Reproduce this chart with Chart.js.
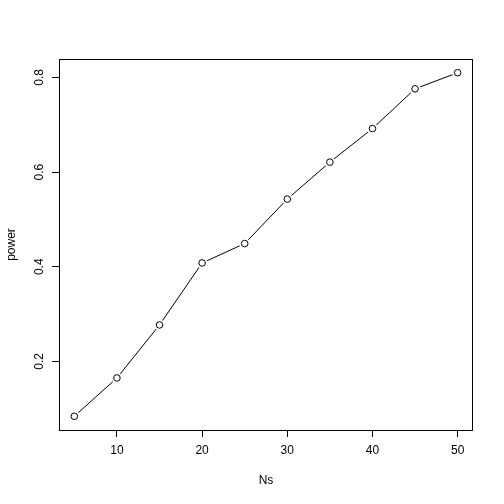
<!DOCTYPE html>
<html>
<head>
<meta charset="utf-8">
<script src="https://cdn.jsdelivr.net/npm/chart.js@4"></script>
<style>
  html, body { margin: 0; padding: 0; background: #fff; }
  #wrap { width: 504px; height: 504px; }
</style>
</head>
<body>
<div id="wrap"><canvas id="powerChart" width="504" height="504"></canvas></div>
<script>
// values
const Ns = [5, 10, 15, 20, 25, 30, 35, 40, 45, 50];
const power = [0.084, 0.165, 0.277, 0.408, 0.449, 0.543, 0.621, 0.692, 0.776, 0.810];
const xTicks = [10, 20, 30, 40, 50];
const yTicks = [0.2, 0.4, 0.6, 0.8];
const xTitle = 'Ns';
const yTitle = 'power';

const FONT = '"Liberation Sans", Arial, sans-serif';
const points = Ns.map((n, i) => ({ x: n, y: power[i] }));

// box around plot area + rotated y labels + axis titles (R base style)
const rStyle = {
  id: 'rStyle',
  afterDraw(chart) {
    const ctx = chart.ctx;
    const a = chart.chartArea;
    const ys = chart.scales.y;
    ctx.save();
    ctx.strokeStyle = '#000';
    ctx.lineWidth = 1;
    ctx.strokeRect(Math.round(a.left) + 0.5, Math.round(a.top) + 0.5,
      Math.round(a.right - a.left) - 1, Math.round(a.bottom - a.top));
    ctx.fillStyle = '#000';
    ctx.font = '12px ' + FONT;
    ctx.textAlign = 'center';
    ctx.textBaseline = 'middle';
    yTicks.forEach(v => {
      ctx.save();
      ctx.translate(40, ys.getPixelForValue(v));
      ctx.rotate(-Math.PI / 2);
      ctx.fillText(v.toFixed(1), 0, 0);
      ctx.restore();
    });
    ctx.save();
    ctx.translate(12, (a.top + a.bottom) / 2);
    ctx.rotate(-Math.PI / 2);
    ctx.fillText(yTitle, 0, 0);
    ctx.restore();
    ctx.fillText(xTitle, (a.left + a.right) / 2, 481);
    ctx.restore();
  }
};

new Chart(document.getElementById('powerChart').getContext('2d'), {
  type: 'scatter',
  data: {
    datasets: [
      {
        data: points,
        showLine: true,
        borderColor: '#000',
        borderWidth: 1,
        pointRadius: 0,
        order: 3
      },
      {
        // white halo leaves the gap of type = "b"
        data: points,
        showLine: false,
        pointRadius: 5.5,
        pointBorderWidth: 0,
        pointBackgroundColor: '#fff',
        order: 2
      },
      {
        data: points,
        showLine: false,
        pointRadius: 3.3,
        pointBorderWidth: 1,
        pointBorderColor: '#000',
        pointBackgroundColor: '#fff',
        order: 1
      }
    ]
  },
  options: {
    responsive: false,
    animation: false,
    devicePixelRatio: 1,
    layout: { padding: { left: 0, top: 59, right: 31, bottom: 0 } },
    plugins: { legend: { display: false }, tooltip: { enabled: false } },
    scales: {
      x: {
        type: 'linear',
        min: 3.2,
        max: 51.8,
        afterBuildTicks: s => { s.ticks = xTicks.map(v => ({ value: v })); },
        afterFit: s => { s.height = 74; },
        grid: { drawOnChartArea: false, drawTicks: true, tickLength: 7, tickColor: '#000' },
        border: { display: false },
        ticks: { color: '#000', padding: 6, maxRotation: 0, font: { family: FONT, size: 12 } }
      },
      y: {
        type: 'linear',
        min: 0.055,
        max: 0.839,
        afterBuildTicks: s => { s.ticks = yTicks.map(v => ({ value: v })); },
        afterFit: s => { s.width = 59; },
        grid: { drawOnChartArea: false, drawTicks: true, tickLength: 7, tickColor: '#000' },
        border: { display: false },
        ticks: { color: 'rgba(0,0,0,0)', font: { family: FONT, size: 12 } }
      }
    }
  },
  plugins: [rStyle]
});
</script>
</body>
</html>
